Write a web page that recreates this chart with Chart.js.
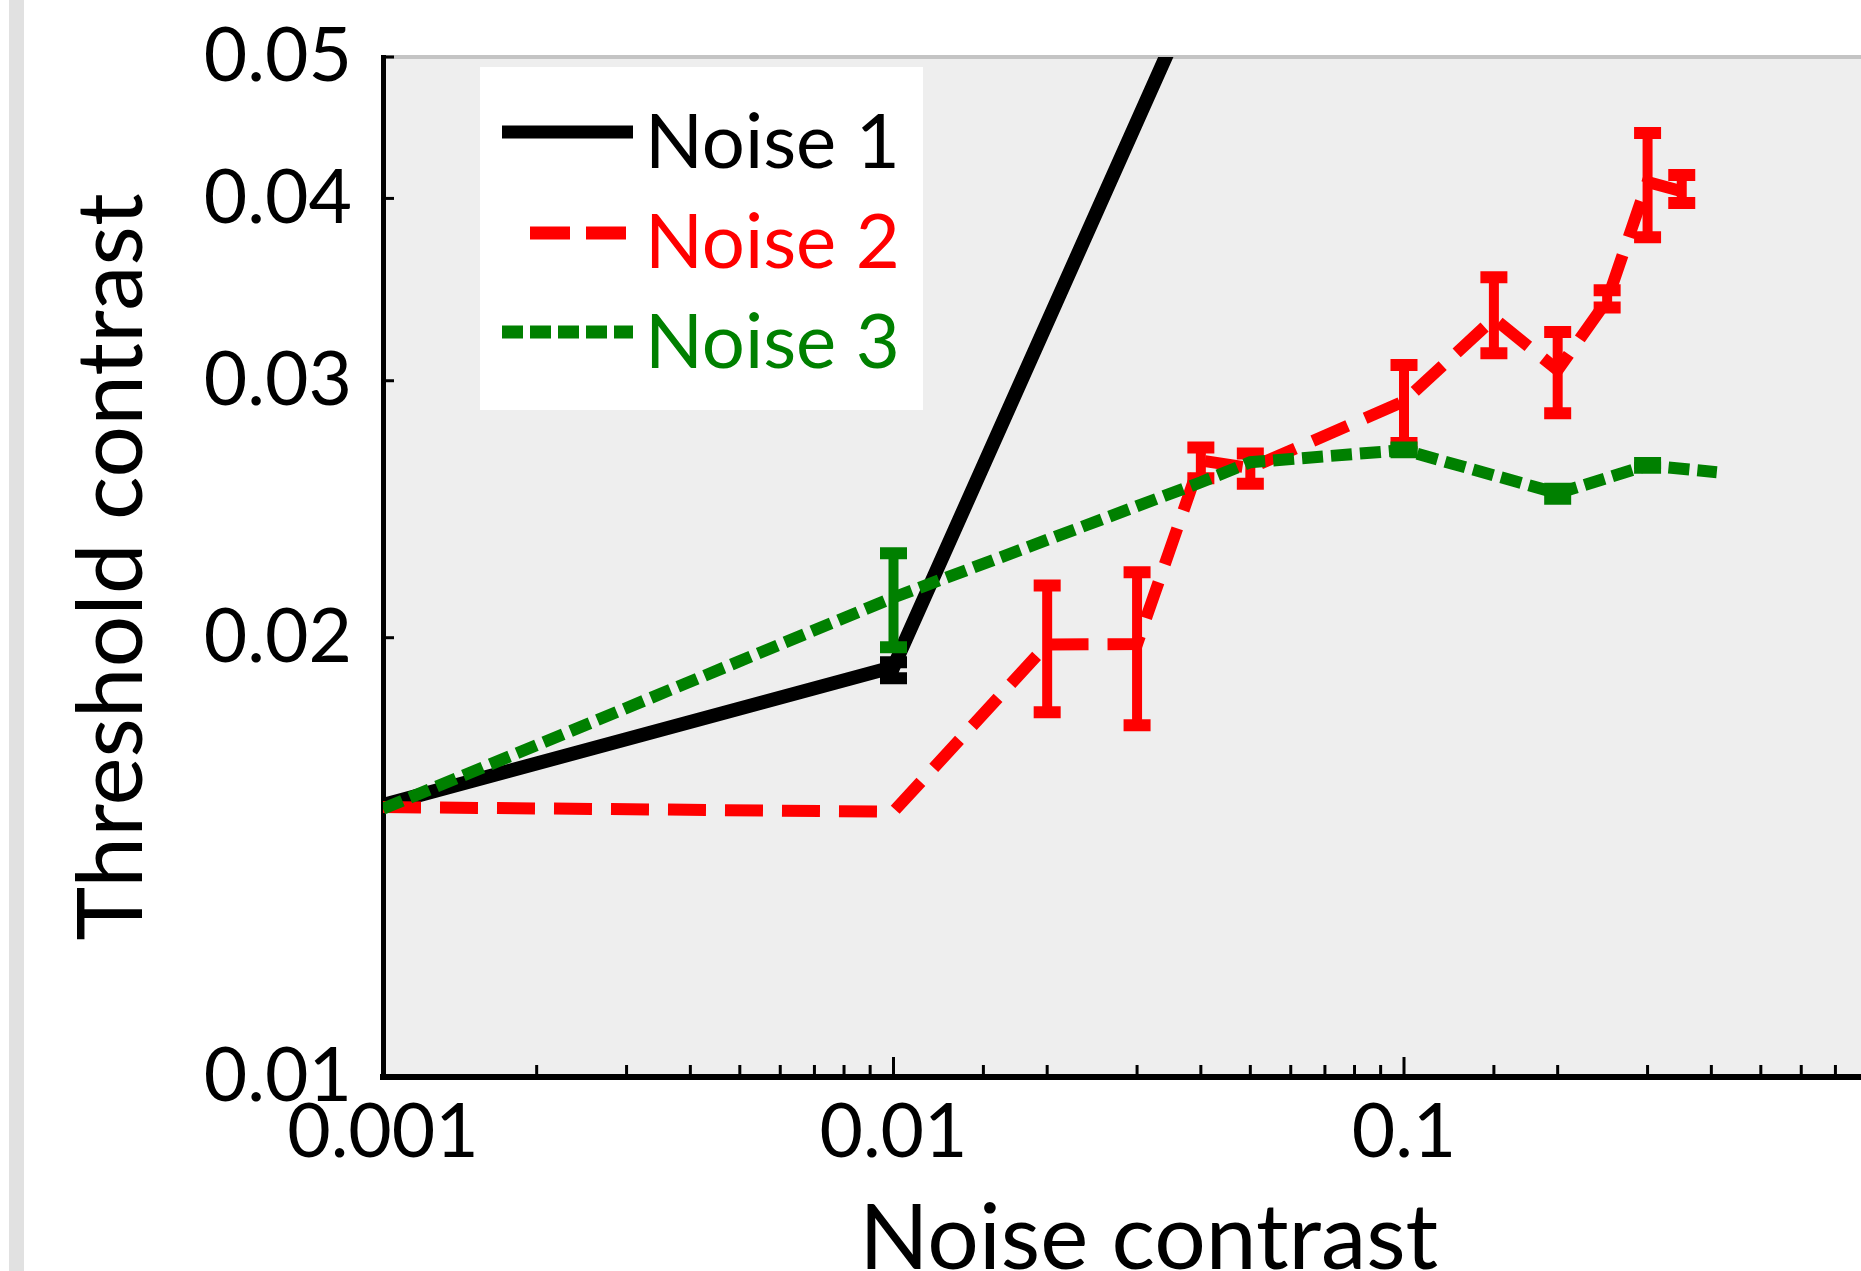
<!DOCTYPE html>
<html>
<head>
<meta charset="utf-8">
<script src="https://cdn.jsdelivr.net/npm/chart.js@4.4.1/dist/chart.umd.min.js"></script>
<style>
  html, body { margin:0; padding:0; background:#fff; overflow:hidden; width:1861px; height:1271px; }
  #wrap { position:relative; width:1861px; height:1271px; overflow:hidden; background:#fff; }
  #cw { position:absolute; left:0; top:0; width:1940px; height:1330px; }
  #strip { position:absolute; left:9px; top:0; width:15px; height:1271px; background:#e1e1e1; }
  #legend { position:absolute; left:480px; top:67px; }
</style>
</head>
<body>
<div id="wrap">
  <div id="cw"><canvas id="c" width="1940" height="1330"></canvas></div>
  <div id="strip"></div>
  <svg id="legend" width="443" height="343" xmlns="http://www.w3.org/2000/svg">
    <rect x="0" y="0" width="443" height="343" fill="#ffffff"/>
    <line x1="22" y1="65" x2="153" y2="65" stroke="#000000" stroke-width="13"/>
    <line x1="50" y1="166" x2="146" y2="166" stroke="#ff0000" stroke-width="13" stroke-dasharray="40 16"/>
    <line x1="22" y1="265" x2="153" y2="265" stroke="#008000" stroke-width="13" stroke-dasharray="21 7"/>
    <text x="165" y="101" font-family="Lato" font-size="76" fill="#000000">Noise 1</text>
    <text x="165" y="201" font-family="Lato" font-size="76" fill="#ff0000">Noise 2</text>
    <text x="165" y="301" font-family="Lato" font-size="76" fill="#008000">Noise 3</text>
  </svg>
</div>
<script>
// ---- Data ----
const xTickValues = [0.001, 0.01, 0.1];
const xTickLabels = ['0.001', '0.01', '0.1'];
const yTickValues = [0.01, 0.02, 0.03, 0.04, 0.05];
const yTickLabels = ['0.01', '0.02', '0.03', '0.04', '0.05'];

const noise1X = [0.001, 0.01, 0.04];
const noise1Y = [0.01536, 0.0191, 0.0566];
const noise1Low  = [null, 0.01876, null];
const noise1High = [null, 0.01924, null];

const noise2X = [0.001, 0.01, 0.02, 0.03, 0.04, 0.05, 0.1, 0.15, 0.2, 0.25, 0.3, 0.35];
const noise2Y = [0.01531, 0.0152, 0.01979, 0.0198, 0.02645, 0.02614, 0.02904, 0.0331, 0.03051, 0.03406, 0.04105, 0.04045];
const noise2Low  = [null, null, 0.01778, 0.01742, 0.02572, 0.0255, 0.02719, 0.03133, 0.0285, 0.03368, 0.03763, 0.03971];
const noise2High = [null, null, 0.02172, 0.02218, 0.027, 0.02675, 0.03075, 0.03532, 0.0324, 0.03461, 0.04435, 0.0415];

const noise3X = [0.001, 0.01, 0.04, 0.05, 0.1, 0.2, 0.3, 0.41];
const noise3Y = [0.01527, 0.02131, 0.02556, 0.02638, 0.02689, 0.02512, 0.02625, 0.02597];
const noise3Low  = [null, 0.0197, null, null, 0.0268, 0.0249, 0.02615, null];
const noise3High = [null, 0.02285, null, null, 0.0270, 0.0253, 0.02635, null];

// ---- helpers ----
function pts(xs, ys) { return xs.map((x, i) => ({ x: x, y: ys[i] })); }
function errPts(xs, lo, hi) {
  const d = [];
  xs.forEach((x, i) => {
    if (lo[i] == null) return;
    d.push({ x: x, y: lo[i] }, { x: x, y: hi[i] }, { x: x, y: null });
  });
  return d;
}
function matchIdx(values, v) {
  for (let i = 0; i < values.length; i++) {
    if (Math.abs(v / values[i] - 1) < 1e-6) return i;
  }
  return -1;
}
function labelFor(values, labels, v) {
  const i = matchIdx(values, v);
  return i >= 0 ? labels[i] : '';
}
function isDecade(v) {
  const l = Math.log10(v);
  return Math.abs(l - Math.round(l)) < 1e-6;
}

const BLACK = '#000000', RED = '#ff0000', GREEN = '#008000';

function lineDs(label, xs, ys, color, width, dash, order) {
  return {
    label: label, data: pts(xs, ys), borderColor: color, backgroundColor: color,
    borderWidth: width, borderDash: dash, borderCapStyle: 'butt', borderJoinStyle: 'miter',
    pointRadius: 0, tension: 0, fill: false, order: order
  };
}
function errDs(label, xs, lo, hi, color, order) {
  return {
    label: label, data: errPts(xs, lo, hi), borderColor: color, backgroundColor: color,
    borderWidth: 10, borderDash: [], pointStyle: 'line', pointRadius: 13.5,
    pointBorderWidth: 12, pointBorderColor: color, pointBackgroundColor: color,
    spanGaps: false, tension: 0, fill: false, order: order
  };
}

const bgPlugin = {
  id: 'plotBg',
  beforeDraw(chart) {
    const { ctx, chartArea: a } = chart;
    ctx.save();
    ctx.fillStyle = '#eeeeee';
    ctx.fillRect(a.left, a.top, a.right - a.left, a.bottom - a.top);
    ctx.strokeStyle = '#c4c4c4';
    ctx.lineWidth = 4;
    ctx.beginPath();
    ctx.moveTo(a.left, a.top);
    ctx.lineTo(a.right, a.top);
    ctx.stroke();
    ctx.restore();
  }
};

const tickPlugin = {
  id: 'innerTicks',
  afterDraw(chart) {
    const { ctx } = chart;
    const xs = chart.scales.x, ys = chart.scales.y;
    ctx.save();
    ctx.strokeStyle = '#000';
    ctx.lineWidth = 3;
    xs.ticks.forEach(t => {
      const px = xs.getPixelForValue(t.value);
      if (px <= xs.left + 2) return;
      const len = isDecade(t.value) ? 20 : 12;
      ctx.beginPath();
      ctx.moveTo(px, xs.top);
      ctx.lineTo(px, xs.top - len);
      ctx.stroke();
    });
    ys.ticks.forEach(t => {
      if (matchIdx(yTickValues, t.value) < 0) return;
      const py = ys.getPixelForValue(t.value);
      if (py >= ys.bottom - 2) return;
      ctx.beginPath();
      ctx.moveTo(ys.right, py);
      ctx.lineTo(ys.right + 11, py);
      ctx.stroke();
    });
    ctx.restore();
  }
};

const CANVAS_W = 1940, CANVAS_H = 1330;

new Chart(document.getElementById('c'), {
  type: 'line',
  data: {
    datasets: [
      errDs('Noise 3 error', noise3X, noise3Low, noise3High, GREEN, 1),
      lineDs('Noise 3', noise3X, noise3Y, GREEN, 12, [21, 8], 2),
      errDs('Noise 2 error', noise2X, noise2Low, noise2High, RED, 3),
      lineDs('Noise 2', noise2X, noise2Y, RED, 12, [38, 19], 4),
      errDs('Noise 1 error', noise1X, noise1Low, noise1High, BLACK, 5),
      lineDs('Noise 1', noise1X, noise1Y, BLACK, 14, [], 6)
    ]
  },
  options: {
    responsive: false,
    animation: false,
    devicePixelRatio: 1,
    layout: { padding: { top: 57, right: 7, left: 0, bottom: 0 } },
    plugins: { legend: { display: false }, tooltip: { enabled: false } },
    scales: {
      x: {
        type: 'logarithmic', position: 'bottom', min: 0.001, max: 1,
        grid: { display: false, drawTicks: false },
        border: { display: true, color: '#000', width: 6 },
        ticks: {
          autoSkip: false, maxRotation: 0, minRotation: 0, padding: 11, color: '#000',
          font: { family: 'Lato', size: 75 },
          callback: (v) => labelFor(xTickValues, xTickLabels, v)
        },
        title: { display: true, text: 'Noise contrast', color: '#000',
          font: { family: 'Lato', size: 91 }, padding: { top: 0, bottom: 36 } },
        afterFit: (s) => { s.height = CANVAS_H - 1077; s.paddingLeft = 0; s.paddingRight = 0; }
      },
      y: {
        type: 'logarithmic', position: 'left', min: 0.01, max: 0.05,
        grid: { display: false, drawTicks: false },
        border: { display: true, color: '#000', width: 5 },
        ticks: {
          autoSkip: false, padding: 31, color: '#000',
          font: { family: 'Lato', size: 75 },
          callback: (v) => labelFor(yTickValues, yTickLabels, v)
        },
        title: { display: true, text: 'Threshold contrast', color: '#000',
          font: { family: 'Lato', size: 91 }, padding: { top: 58, bottom: 0 } },
        afterFit: (s) => { s.width = 383; s.paddingTop = 0; s.paddingBottom = 0; }
      }
    }
  },
  plugins: [bgPlugin, tickPlugin]
});
</script>
</body>
</html>
